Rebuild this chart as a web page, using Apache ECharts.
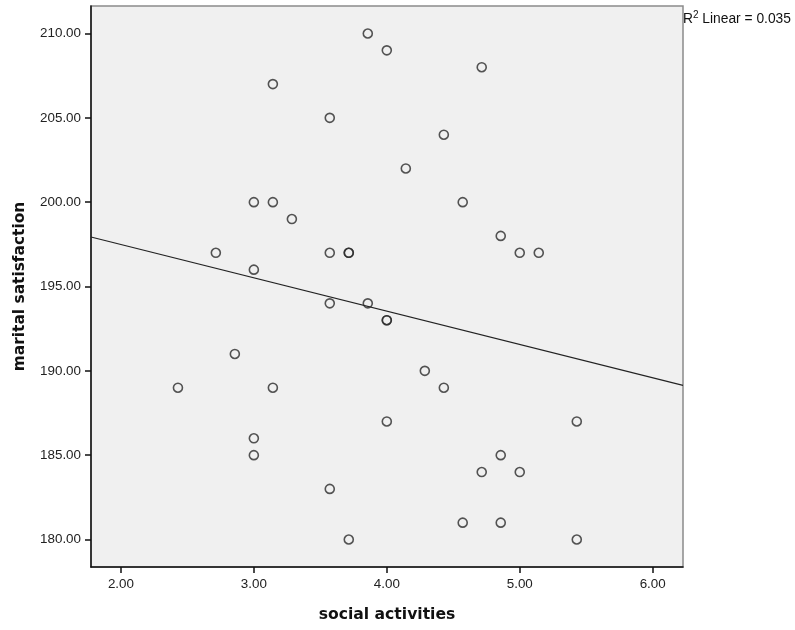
<!DOCTYPE html>
<html>
<head>
<meta charset="utf-8">
<title>marital satisfaction vs social activities</title>
<script src="https://cdn.jsdelivr.net/npm/echarts@6/dist/echarts.min.js"></script>
<style>
  html, body { margin: 0; padding: 0; background: #fff; }
  #chart { width: 795px; height: 630px; }
</style>
</head>
<body>
<div id="chart"></div>
<script>
  // data (x in sevenths, y whole numbers)
  const socialActivities = [
    3.857, 4.000, 4.714, 3.143, 3.571, 4.429, 4.143, 3.000, 3.143, 4.571,
    3.286, 4.857, 2.714, 3.571, 3.714, 3.714, 5.000, 5.143, 3.000, 3.571,
    3.857, 4.000, 4.000, 2.857, 4.286, 2.429, 3.143, 4.429, 4.000, 5.429,
    3.000, 3.000, 4.857, 4.714, 5.000, 3.571, 4.571, 4.857, 3.714, 5.429
  ];
  const maritalSatisfaction = [
    210, 209, 208, 207, 205, 204, 202, 200, 200, 200,
    199, 198, 197, 197, 197, 197, 197, 197, 196, 194,
    194, 193, 193, 191, 190, 189, 189, 189, 187, 187,
    186, 185, 185, 184, 184, 183, 181, 181, 180, 180
  ];
  const xTicks = [2, 3, 4, 5, 6];
  const yTicks = [180, 185, 190, 195, 200, 205, 210];
  const r2Label = '0.035';

  const xMin = 1.775, xMax = 6.228;
  const yMin = 178.37, yMax = 211.63;

  // least squares fit line
  function fitLine(xs, ys) {
    const n = xs.length;
    let mx = 0, my = 0;
    for (let i = 0; i < n; i++) { mx += xs[i]; my += ys[i]; }
    mx /= n; my /= n;
    let sxy = 0, sxx = 0;
    for (let i = 0; i < n; i++) {
      sxy += (xs[i] - mx) * (ys[i] - my);
      sxx += (xs[i] - mx) * (xs[i] - mx);
    }
    const b = sxy / sxx;
    return { b: b, a: my - b * mx };
  }
  const fit = fitLine(socialActivities, maritalSatisfaction);
  const points = socialActivities.map((x, i) => [x, maritalSatisfaction[i]]);

  const myChart = echarts.init(document.getElementById('chart'));
  const options = {
    animation: false,
    grid: {
      left: 91, right: 112, top: 6, bottom: 63,
      containLabel: false,
      outerBoundsMode: 'none',
      show: true,
      backgroundColor: '#f0f0f0',
      borderColor: '#8a8a8a',
      borderWidth: 1.5
    },
    xAxis: {
      type: 'value',
      min: xMin, max: xMax,
      name: 'social activities',
      nameLocation: 'middle',
      nameGap: 40,
      nameTextStyle: { fontFamily: 'DejaVu Sans', fontWeight: 'bold', fontSize: 15.6, color: '#111' },
      axisLine: { show: true, onZero: false, lineStyle: { color: '#111', width: 1.5 } },
      axisTick: { show: true, customValues: xTicks, length: 6, lineStyle: { color: '#111', width: 1.5 } },
      axisLabel: {
        customValues: xTicks,
        formatter: v => v.toFixed(2),
        fontFamily: 'Liberation Sans', fontSize: 13.4, color: '#222', margin: 11
      },
      splitLine: { show: false }
    },
    yAxis: {
      type: 'value',
      min: yMin, max: yMax,
      name: 'marital satisfaction',
      nameLocation: 'middle',
      nameGap: 64,
      nameTextStyle: { fontFamily: 'DejaVu Sans', fontWeight: 'bold', fontSize: 15.4, color: '#111' },
      axisLine: { show: true, onZero: false, lineStyle: { color: '#111', width: 1.5 } },
      axisTick: { show: true, customValues: yTicks, length: 6, lineStyle: { color: '#111', width: 1.5 } },
      axisLabel: {
        customValues: yTicks,
        formatter: v => v.toFixed(2),
        fontFamily: 'Liberation Sans', fontSize: 13.4, color: '#222', margin: 10
      },
      splitLine: { show: false }
    },
    series: [
      {
        type: 'line',
        data: [[xMin, fit.a + fit.b * xMin], [xMax, fit.a + fit.b * xMax]],
        symbol: 'none',
        lineStyle: { color: '#222', width: 1.1 },
        z: 2
      },
      {
        type: 'scatter',
        data: points,
        symbol: 'circle',
        symbolSize: 9,
        itemStyle: { color: 'rgba(0,0,0,0)', borderColor: '#2a2a2a', borderWidth: 1.6 },
        z: 3
      }
    ],
    graphic: [{
      type: 'text',
      left: 683,
      top: 10,
      style: {
        text: '{r|R}{sup|2}{r| Linear = ' + r2Label + '}',
        rich: {
          r: { fontFamily: 'Liberation Sans', fontSize: 13.8, fill: '#111', verticalAlign: 'bottom' },
          sup: { fontFamily: 'Liberation Sans', fontSize: 10, fill: '#111', padding: [0, 0, 6, 0], verticalAlign: 'bottom' }
        }
      }
    }]
  };
  myChart.setOption(options);
</script>
</body>
</html>
